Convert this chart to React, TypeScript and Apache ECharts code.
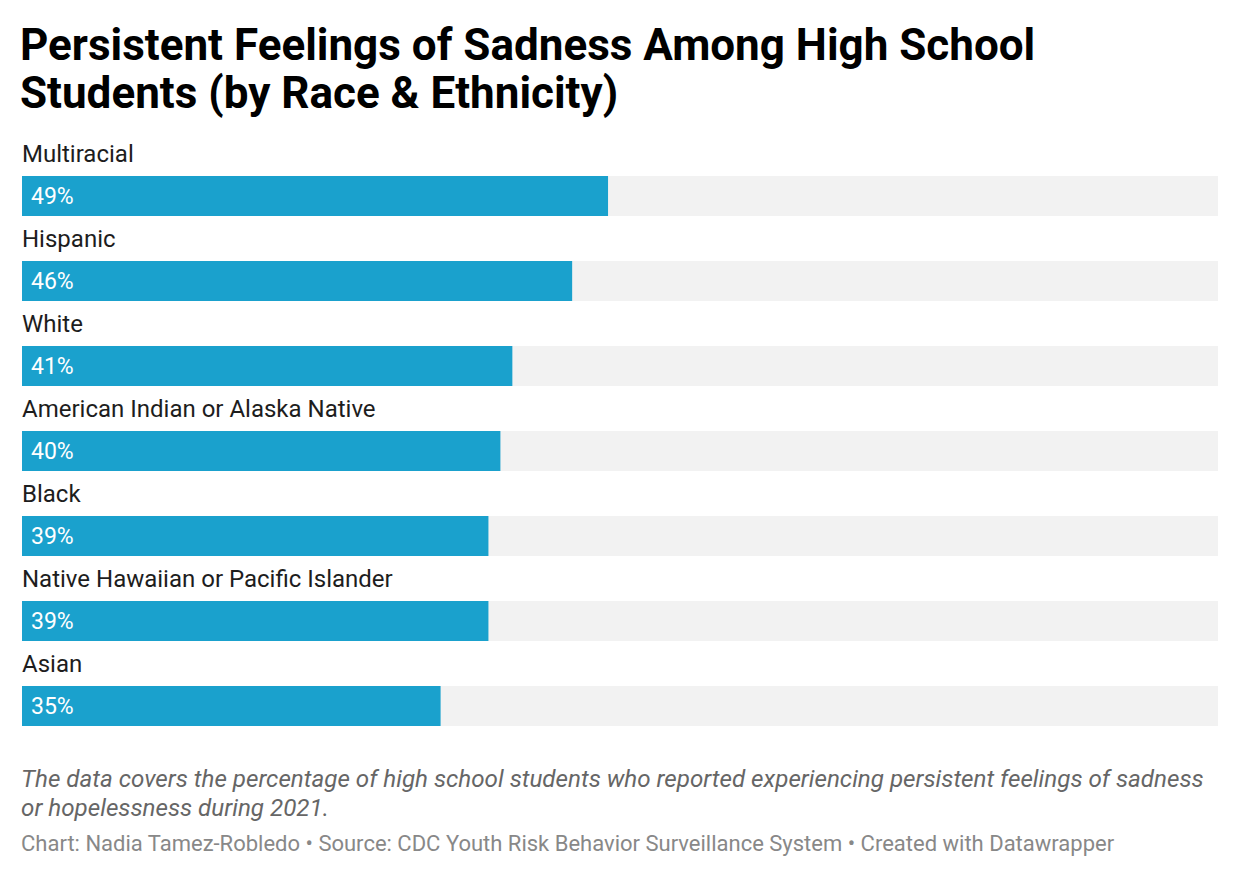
import React, { useEffect, useRef } from "react";
import * as echarts from "echarts";

const categories = [
  "Multiracial",
  "Hispanic",
  "White",
  "American Indian or Alaska Native",
  "Black",
  "Native Hawaiian or Pacific Islander",
  "Asian",
];
const values = [49, 46, 41, 40, 39, 39, 35];

const titleLines = [
  "Persistent Feelings of Sadness Among High School",
  "Students (by Race & Ethnicity)",
];
const noteLines = [
  "The data covers the percentage of high school students who reported experiencing persistent feelings of sadness",
  "or hopelessness during 2021.",
];
const creditLine =
  "Chart: Nadia Tamez-Robledo • Source: CDC Youth Risk Behavior Surveillance System • Created with Datawrapper";

const FONT = "Roboto, 'Noto Sans', sans-serif";

export default function App() {
  const ref = useRef<HTMLDivElement>(null);

  useEffect(() => {
    if (!ref.current) return;
    const chart = echarts.init(ref.current, null, { renderer: "svg" });
    chart.setOption({
      animation: false,
      backgroundColor: "#ffffff",
      grid: { left: 22, right: 22, top: 153.5, bottom: 129.5, containLabel: false },
      xAxis: {
        type: "value",
        min: 0,
        max: 100,
        show: false,
      },
      yAxis: {
        type: "category",
        data: categories,
        inverse: true,
        axisLine: { show: false },
        axisTick: { show: false },
        splitLine: { show: false },
        z: 1,
        axisLabel: {
          inside: true,
          margin: 0,
          interval: 0,
          showMinLabel: true,
          showMaxLabel: true,
          hideOverlap: false,
          align: "left",
          verticalAlign: "middle",
          // category name sits on the first of four lines, above its bar
          formatter: (v: string) => `${v}\n\n\n`,
          lineHeight: 28,
          color: "#1d1d1d",
          fontFamily: FONT,
          fontSize: 24,
        },
      },
      series: [
        {
          type: "bar",
          data: values,
          barWidth: 40,
          z: 5,
          showBackground: true,
          backgroundStyle: { color: "#f2f2f2" },
          itemStyle: { color: "#1aa1cd" },
          label: {
            show: true,
            position: "insideLeft",
            distance: 9,
            formatter: "{c}%",
            color: "#ffffff",
            fontFamily: FONT,
            fontSize: 23,
          },
        },
      ],
      graphic: [
        ...titleLines.map((t, i) => ({
          type: "text",
          left: 20,
          top: 23 + i * 48,
          style: {
            text: t,
            fill: "#000000",
            font: `700 44px ${FONT}`,
          },
        })),
        ...noteLines.map((t, i) => ({
          type: "text",
          left: 21,
          top: 767 + i * 29,
          style: {
            text: t,
            fill: "#666666",
            font: `italic 24.2px ${FONT}`,
          },
        })),
        {
          type: "text",
          left: 21,
          top: 832,
          style: {
            text: creditLine,
            fill: "#888888",
            font: `22px ${FONT}`,
          },
        },
      ],
    });
    return () => chart.dispose();
  }, []);

  return (
    <div
      ref={ref}
      style={{ position: "absolute", left: 0, top: 0, width: 1240, height: 878 }}
    />
  );
}
